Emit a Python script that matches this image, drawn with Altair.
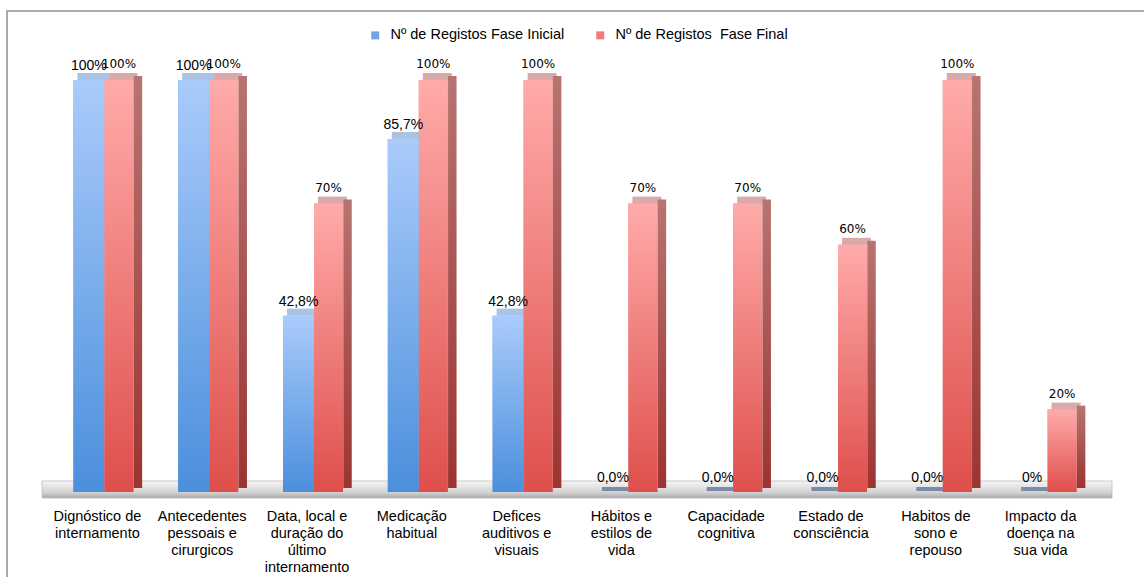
import altair as alt
import pandas as pd

categories = [
    "Dignóstico de\ninternamento",
    "Antecedentes\npessoais e\ncirurgicos",
    "Data, local e\nduração do\núltimo\ninternamento",
    "Medicação\nhabitual",
    "Defices\nauditivos e\nvisuais",
    "Hábitos e\nestilos de\nvida",
    "Capacidade\ncognitiva",
    "Estado de\nconsciência",
    "Habitos de\nsono e\nrepouso",
    "Impacto da\ndoença na\nsua vida",
]
series_names = ["Nº de Registos Fase Inicial", "Nº de Registos\u00a0 Fase Final"]
inicial_values = [100, 100, 42.8, 85.7, 42.8, 0, 0, 0, 0, 0]
final_values = [100, 100, 70, 100, 100, 70, 70, 60, 100, 20]
inicial_labels = ["100%", "100%", "42,8%", "85,7%", "42,8%", "0,0%", "0,0%", "0,0%", "0,0%", "0%"]
final_labels = ["100%", "100%", "70%", "100%", "100%", "70%", "70%", "60%", "100%", "20%"]

df_ini = pd.DataFrame({"cat": categories, "value": inicial_values, "label": inicial_labels,
                       "serie": series_names[0], "zero": 0})
df_fin = pd.DataFrame({"cat": categories, "value": final_values, "label": final_labels,
                       "serie": series_names[1], "zero": 0})

W, H = 1048, 412

x_enc = alt.X("cat:N", sort=categories,
              scale=alt.Scale(paddingInner=0, paddingOuter=0),
              axis=alt.Axis(title=None, labelAngle=0, domain=False, ticks=False,
                            labelExpr="split(datum.label, '\\n')",
                            labelFont="Liberation Sans", labelFontSize=14.5,
                            labelColor="#000000", labelPadding=17, labelLimit=0,
                            labelLineHeight=17, labelBaseline="top"))
y_scale = alt.Scale(domain=[0, 100], nice=False)
y_enc = alt.Y("value:Q", scale=y_scale, axis=None)

color_enc = alt.Color("serie:N",
                      scale=alt.Scale(domain=series_names, range=["#6fa5e8", "#ee7c78"]),
                      legend=alt.Legend(title=None, orient="none", direction="horizontal",
                                        legendX=323, legendY=-52,
                                        symbolType="square", symbolSize=64,
                                        symbolStrokeWidth=0, labelLimit=400,
                                        labelFont="Liberation Sans", labelFontSize=14.5,
                                        labelColor="#000000", labelOffset=8,
                                        columnPadding=28))

blue_grad = alt.Gradient(gradient="linear", x1=0, x2=0, y1=0, y2=1,
                         stops=[alt.GradientStop(color="#aacbfb", offset=0),
                                alt.GradientStop(color="#4b8fdc", offset=1)])
red_grad = alt.Gradient(gradient="linear", x1=0, x2=0, y1=0, y2=1,
                        stops=[alt.GradientStop(color="#ffabaa", offset=0),
                               alt.GradientStop(color="#de4f4b", offset=1)])
side_grad = alt.Gradient(gradient="linear", x1=0, x2=0, y1=0, y2=1,
                         stops=[alt.GradientStop(color="#b77471", offset=0),
                                alt.GradientStop(color="#9c3431", offset=1)])
floor_grad = alt.Gradient(gradient="linear", x1=0, x2=0, y1=0, y2=1,
                          stops=[alt.GradientStop(color="#f6f6f6", offset=0),
                                 alt.GradientStop(color="#d0d0d0", offset=0.7),
                                 alt.GradientStop(color="#a8a8a8", offset=1)])

one = alt.Data(values=[{"a": 1}])

border = alt.Chart(one).mark_rect(fill=None, stroke="#ababab", strokeWidth=2).encode(
    x=alt.value(-38), x2=alt.value(W + 120), y=alt.value(-69), y2=alt.value(H + 200))

floor = alt.Chart(one).mark_rect(color=floor_grad, stroke="#bdbdbd", strokeWidth=0.8).encode(
    x=alt.value(-3), x2=alt.value(1067), y=alt.value(H - 11), y2=alt.value(H + 6))

zero_top = alt.Chart(df_ini).transform_filter("datum.value == 0").mark_tick(
    color="#4f6b96", thickness=4, size=29, xOffset=-5, yOffset=-3).encode(
    x=x_enc, y=alt.Y("zero:Q", scale=y_scale, axis=None))

blue_solid = alt.Chart(df_ini).mark_bar(width=31, xOffset=-8.5).encode(
    x=x_enc, y=y_enc, color=color_enc)
red_solid = alt.Chart(df_fin).mark_bar(width=29, xOffset=21.5).encode(
    x=x_enc, y=y_enc, color=color_enc)

blue_bar = alt.Chart(df_ini).mark_bar(width=31, xOffset=-8.5, color=blue_grad).encode(
    x=x_enc, y=y_enc)
blue_top = alt.Chart(df_ini).transform_filter("datum.value > 0").mark_tick(
    color="#86a9d8", thickness=7, size=31, xOffset=-4.5, yOffset=-3.5).encode(
    x=x_enc, y=y_enc)
red_bar = alt.Chart(df_fin).mark_bar(width=29, xOffset=21.5, color=red_grad).encode(
    x=x_enc, y=y_enc)
red_top = alt.Chart(df_fin).mark_tick(
    color="#c98684", thickness=7, size=29, xOffset=25.5, yOffset=-3.5).encode(
    x=x_enc, y=y_enc)
red_side = alt.Chart(df_fin).mark_bar(width=8.5, xOffset=40.5, yOffset=-4, color=side_grad).encode(
    x=x_enc, y=y_enc)

blue_text = alt.Chart(df_ini).mark_text(xOffset=-8.5, dy=-7, baseline="bottom",
                                        font="Liberation Sans", fontSize=14,
                                        color="#000000").encode(
    x=x_enc, y=y_enc, text="label:N")
red_text = alt.Chart(df_fin).mark_text(xOffset=21.5, dy=-9, baseline="bottom",
                                       font="DejaVu Sans", fontSize=12,
                                       color="#000000").encode(
    x=x_enc, y=y_enc, text="label:N")

chart = alt.layer(border, floor, zero_top, blue_solid, red_solid, blue_top, red_top,
                  blue_bar, red_bar, red_side, blue_text, red_text).properties(
    width=W, height=H,
    autosize=alt.AutoSizeParams(type="none"),
    padding={"left": 45, "top": 80, "right": 51, "bottom": 85},
    background="white",
).configure_view(stroke=None)

chart.save("out.html", embed_options={"renderer": "svg", "actions": False})
